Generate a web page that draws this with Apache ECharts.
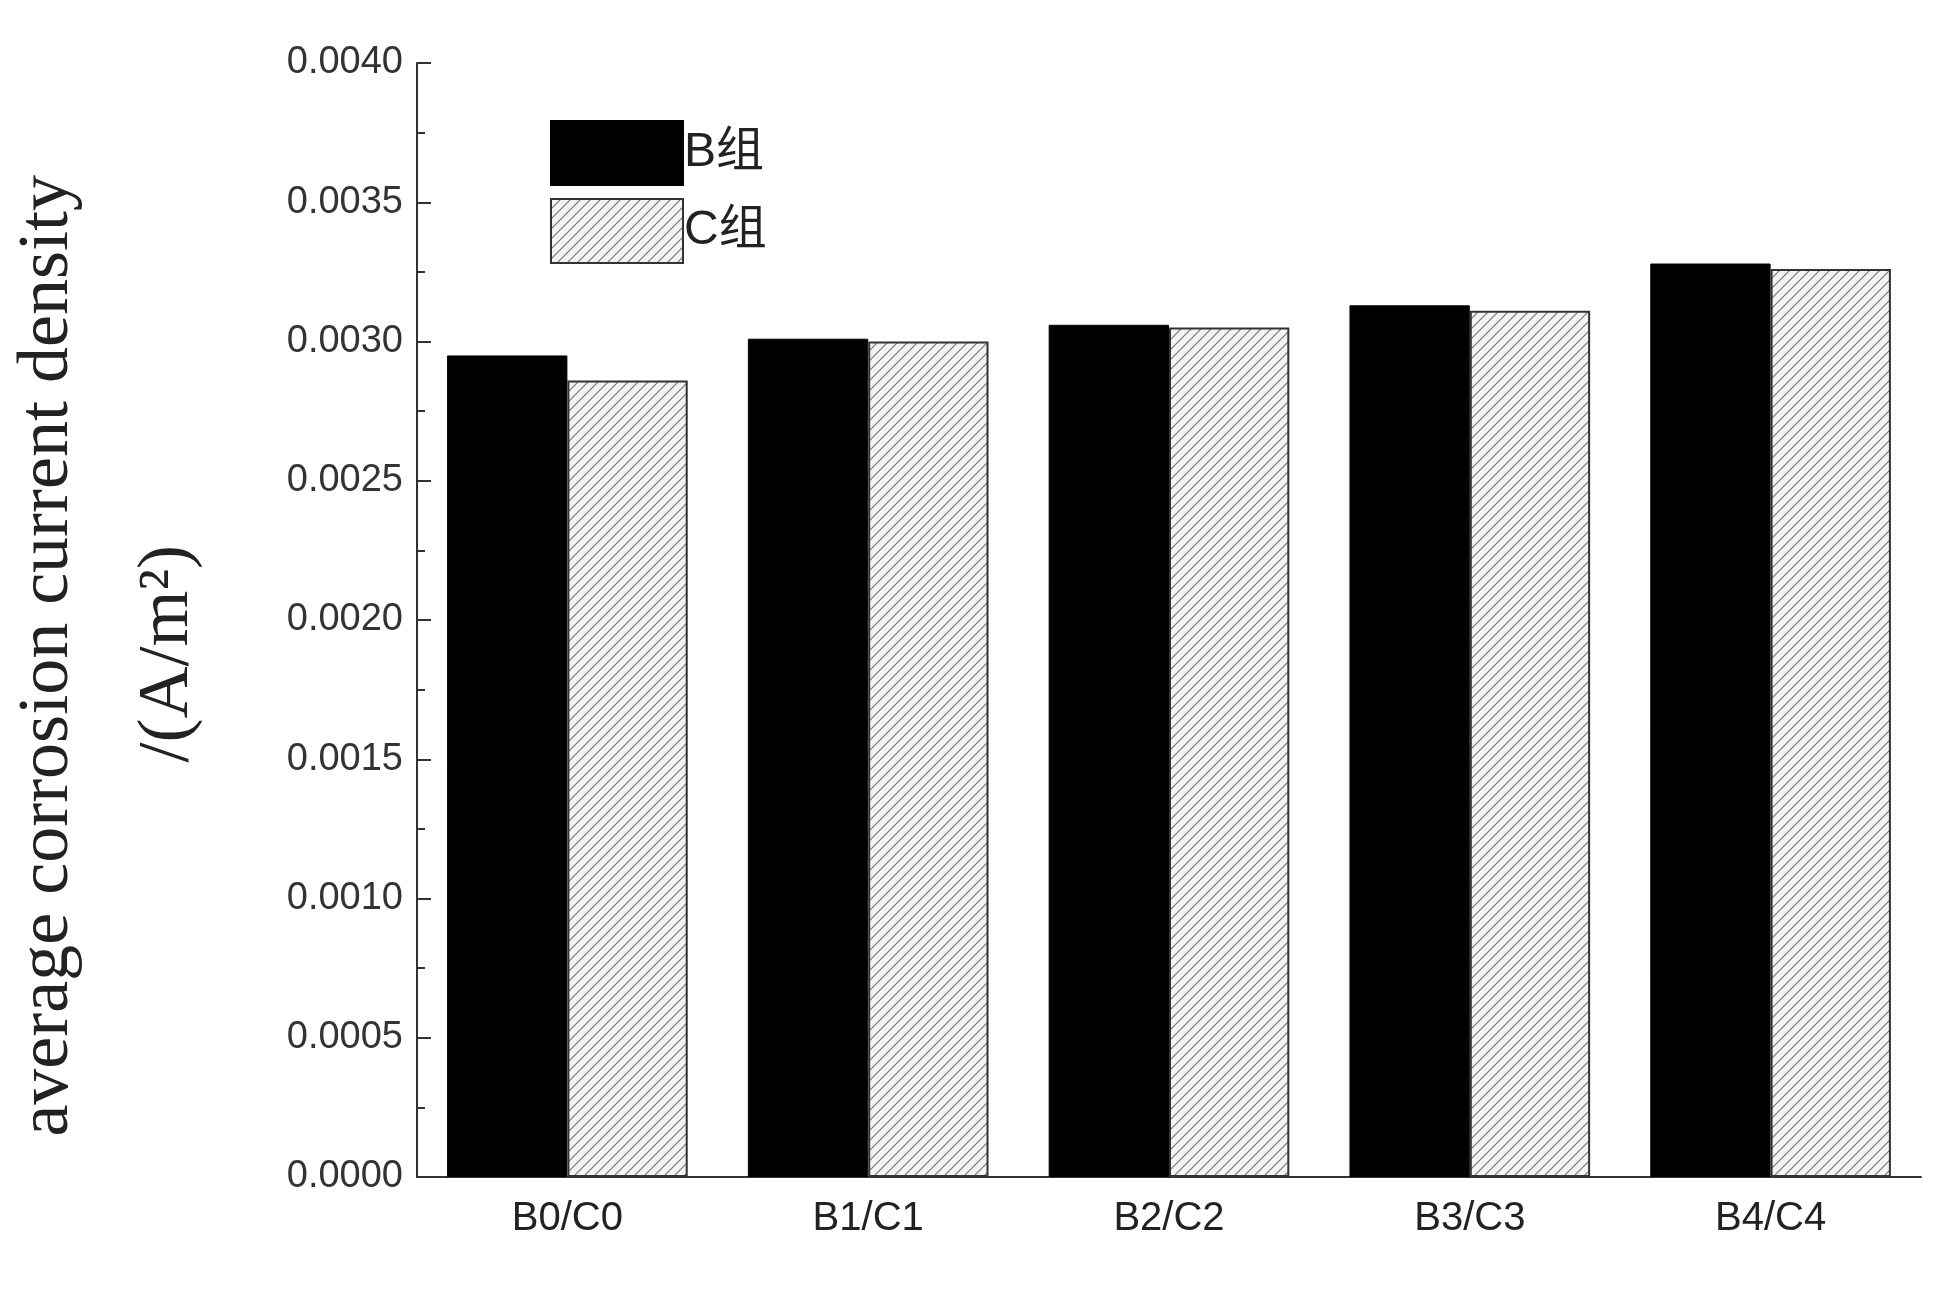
<!DOCTYPE html>
<html>
<head>
<meta charset="utf-8">
<script src="https://cdn.jsdelivr.net/npm/echarts@6/dist/echarts.min.js"></script>
<style>html,body{margin:0;padding:0;background:#fff}#main{width:1953px;height:1306px}</style>
</head>
<body>
<div id="main"></div>
<script>
var categories = ['B0/C0', 'B1/C1', 'B2/C2', 'B3/C3', 'B4/C4'];
var bGroup = [0.00295, 0.00301, 0.00306, 0.00313, 0.00328];
var cGroup = [0.00286, 0.00300, 0.00305, 0.00311, 0.00326];

// 斜线填充
function hatch() {
	var c = document.createElement('canvas');
	c.width = 10; c.height = 10;
	var ctx = c.getContext('2d');
	ctx.fillStyle = '#f4f4f4';
	ctx.fillRect(0, 0, 10, 10);
	ctx.strokeStyle = '#777';
	ctx.lineWidth = 1.2;
	ctx.beginPath();
	ctx.moveTo(0, 10); ctx.lineTo(10, 0);
	ctx.moveTo(-5, 5); ctx.lineTo(5, -5);
	ctx.moveTo(5, 15); ctx.lineTo(15, 5);
	ctx.stroke();
	return c;
}

var myChart = echarts.init(document.getElementById('main'));
var option = {
	animation : false,
	grid : { left : 417, right : 32, top : 63, bottom : 129 },
	legend : {
		left : 545, top : 115, orient : 'vertical', itemGap : 12,
		itemWidth : 132, itemHeight : 64, icon : 'rect',
		textStyle : { fontSize : 48, color : '#222', fontFamily : 'Liberation Sans, Noto Sans CJK SC', padding : [0, 0, 0, -4] },
		data : ['B组', 'C组']
	},
	xAxis : {
		type : 'category', data : categories,
		axisLine : { lineStyle : { color : '#333', width : 2 } },
		axisTick : { show : false },
		axisLabel : { fontSize : 40, color : '#222', margin : 22, fontFamily : 'Liberation Sans' }
	},
	yAxis : {
		type : 'value', min : 0, max : 0.004, interval : 0.0005,
		axisLine : { show : true, lineStyle : { color : '#333', width : 2 } },
		axisTick : { show : true, inside : true, length : 14, lineStyle : { width : 2 } },
		minorTick : { show : true, splitNumber : 2, length : 8, lineStyle : { color : '#333', width : 2 } },
		splitLine : { show : false },
		axisLabel : { fontSize : 38, color : '#333', margin : 14, fontFamily : 'Liberation Sans',
			formatter : function (v) { return v.toFixed(4); } }
	},
	graphic : [
		{ type : 'text', left : 12, top : 175, rotation : Math.PI / 2,
			style : { text : 'average corrosion current density', font : '72px "Liberation Serif"', fill : '#222' } },
		{ type : 'text', left : 132, top : 545, rotation : Math.PI / 2,
			style : { text : '/(A/m²)', font : '72px "Liberation Serif"', fill : '#222' } }
	],
	series : [
		{ name : 'B组', type : 'bar', data : bGroup, barGap : '0%', barCategoryGap : '20%',
			itemStyle : { color : '#000', borderColor : '#000', borderWidth : 1 } },
		{ name : 'C组', type : 'bar', data : cGroup,
			itemStyle : { color : { image : hatch(), repeat : 'repeat' }, borderColor : '#333', borderWidth : 2 } }
	]
};
myChart.setOption(option);
</script>
</body>
</html>
